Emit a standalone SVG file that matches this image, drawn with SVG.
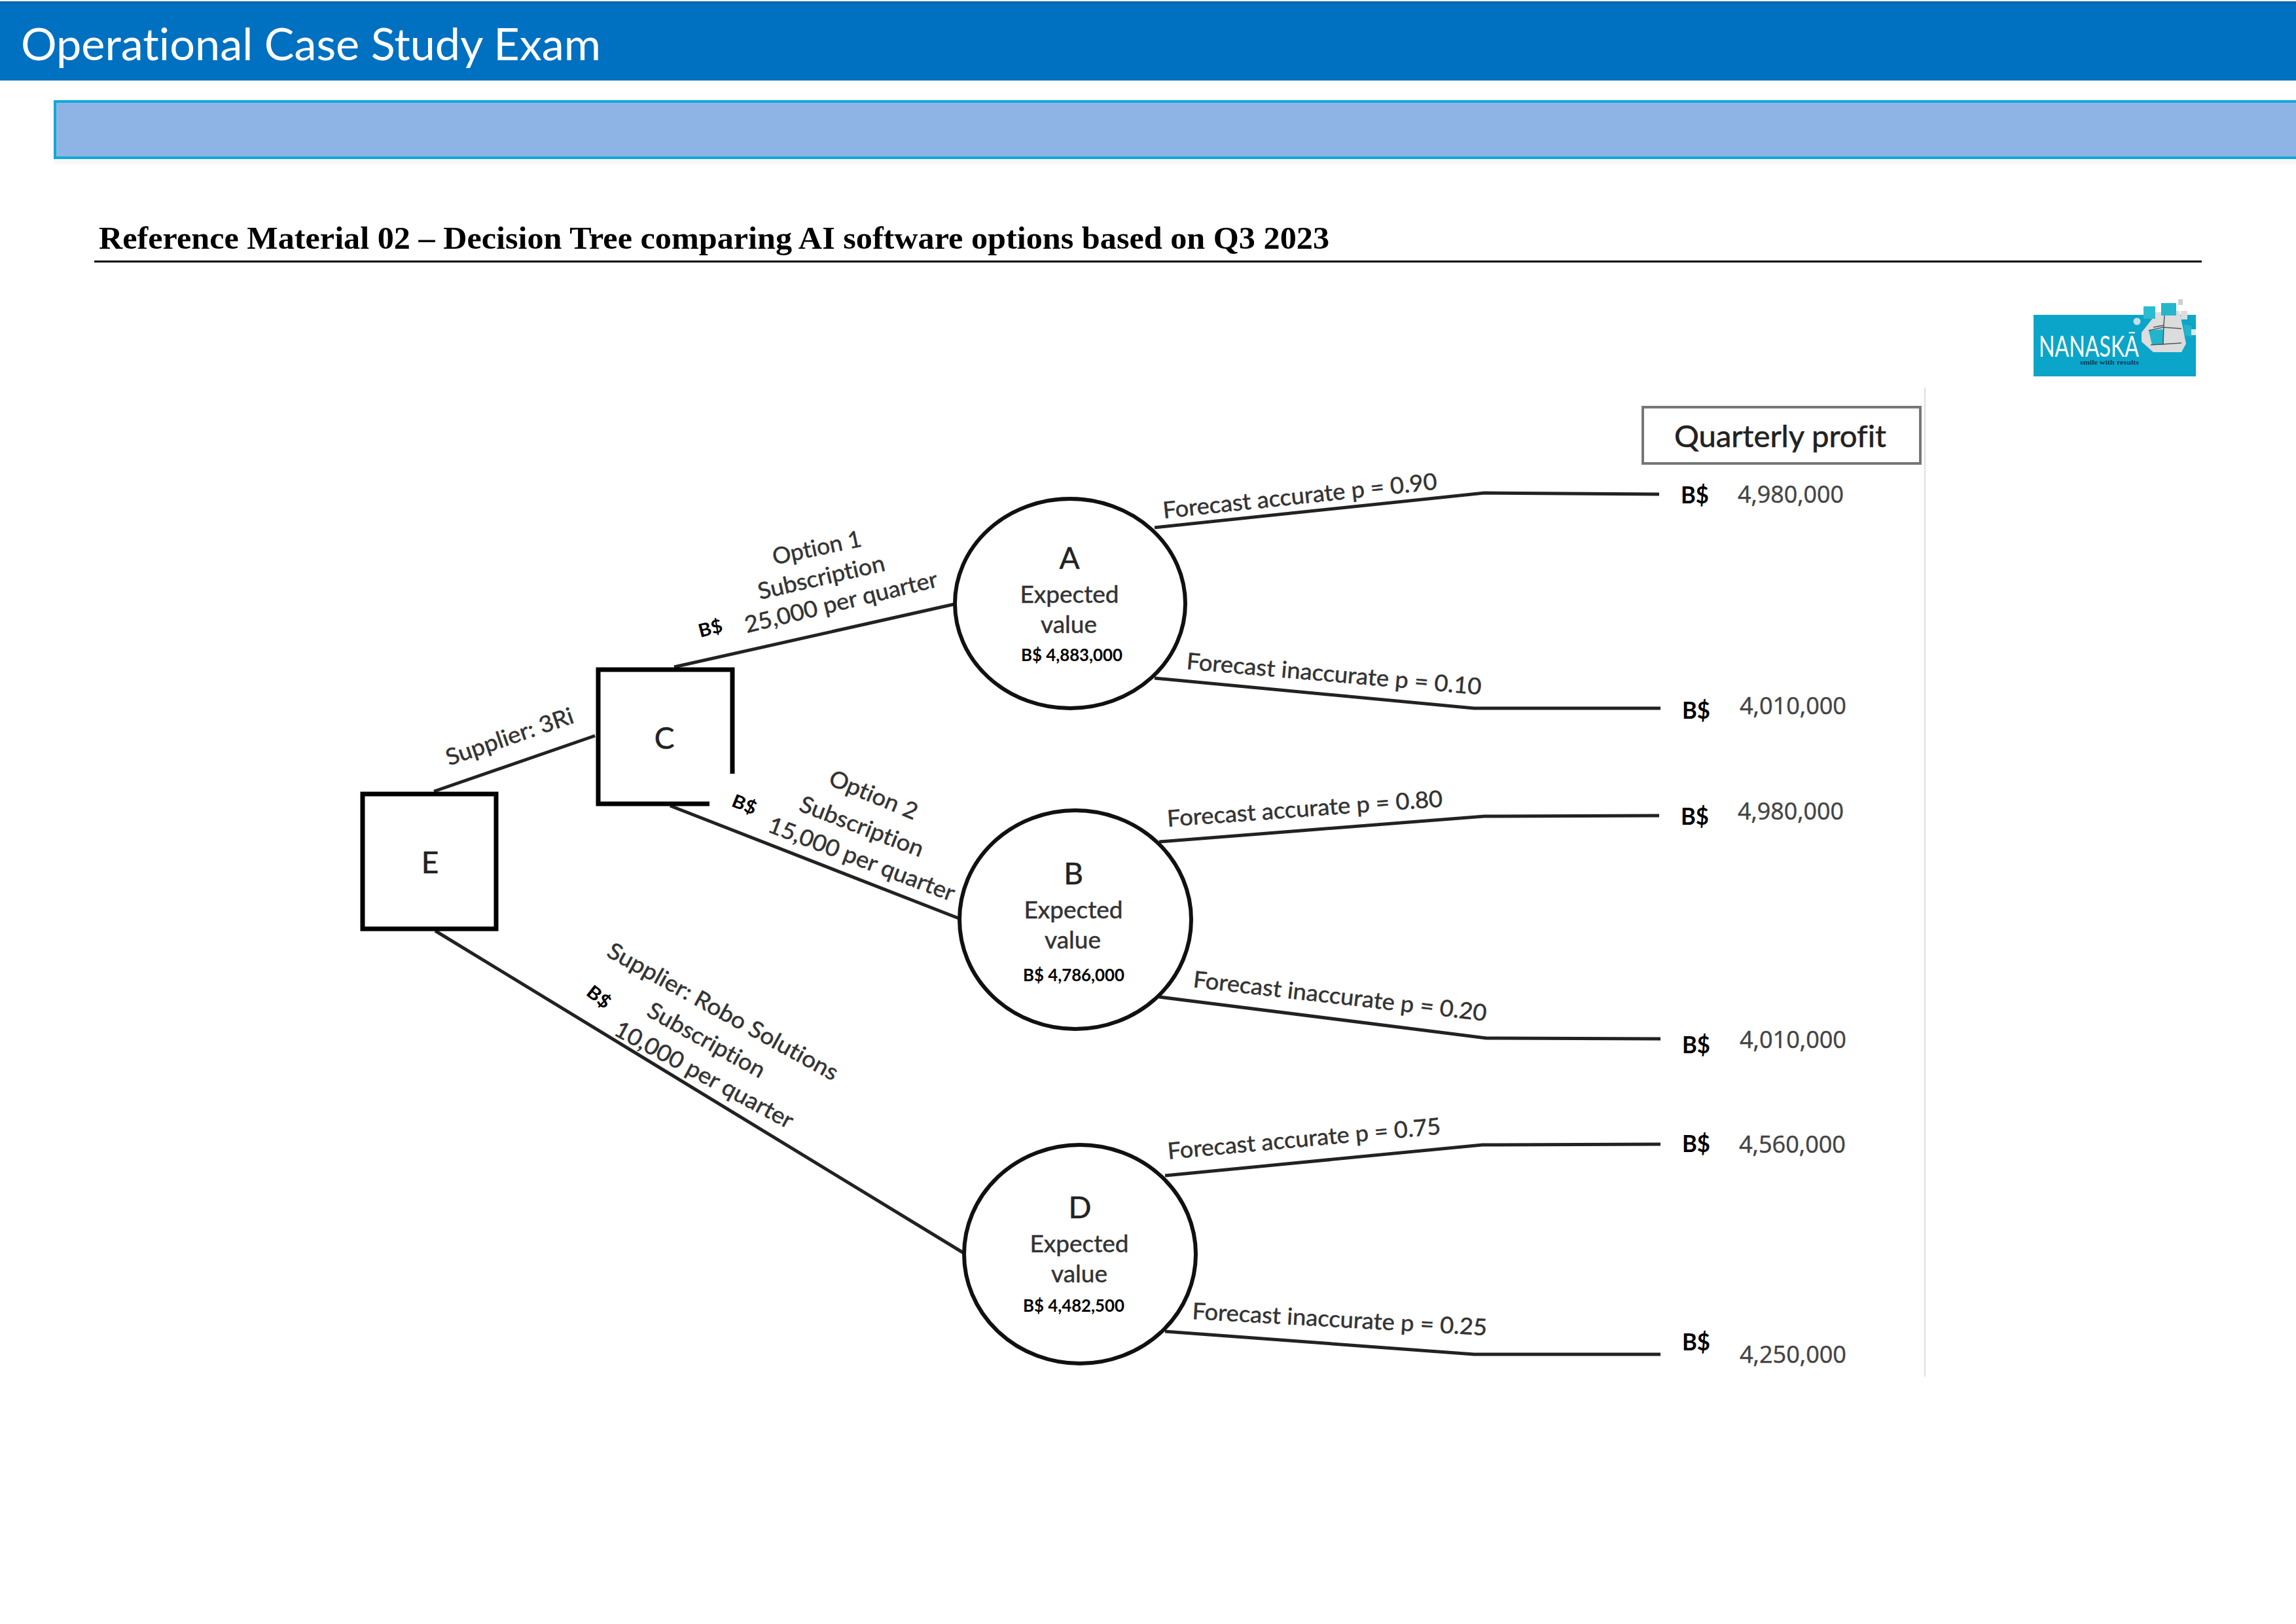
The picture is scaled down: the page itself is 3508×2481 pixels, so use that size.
<svg xmlns="http://www.w3.org/2000/svg" width="3508" height="2481" viewBox="0 0 3508 2481">
<style>
text{font-family:"Lato","Open Sans","Liberation Sans",sans-serif;fill:#333;font-variant-ligatures:none}
.lbl{font-size:35px;stroke:#333;stroke-width:.5}
.val{font-size:36px;fill:#444;font-family:"Open Sans","Liberation Sans",sans-serif;stroke:#444;stroke-width:.5}
.cur{font-size:36px;font-weight:700;fill:#000}
.cur2{font-size:28px;font-weight:700;fill:#000}
.ev{font-size:27px;font-weight:700;fill:#000}
.big{font-size:46px;text-anchor:middle;fill:#222;stroke:#222;stroke-width:.5}
.mid{font-size:37px;text-anchor:middle;stroke:#333;stroke-width:.5}
.box{fill:#fff;stroke:#000;stroke-width:7}
.circ{fill:#fff;stroke:#111;stroke-width:6}
.conn{fill:none;stroke:#222;stroke-width:5}
</style>
<rect width="3508" height="2481" fill="#fff"/>
<g id="header">
<rect x="0" y="2" width="3508" height="121" fill="#0070c0"/>
<rect x="0" y="2" width="3508" height="3" fill="#0b66a8"/>
<text x="32" y="92" font-size="68" style="fill:#fff" textLength="886" lengthAdjust="spacingAndGlyphs">Operational Case Study Exam</text>
</g>
<g id="band">
<rect x="82" y="243" width="3426" height="8" fill="#f8f8f8"/>
<rect x="84" y="155" width="3430" height="86" fill="#8eb4e6" stroke="#12a8d8" stroke-width="4"/>
</g>
<g id="title">
<text x="151" y="380" font-size="48" font-weight="700" style="font-family:'Liberation Serif',serif;fill:#000" textLength="1880" lengthAdjust="spacingAndGlyphs">Reference Material 02 – Decision Tree comparing AI software options based on Q3 2023</text>
<rect x="144" y="398" width="3220" height="3" fill="#000"/>
</g>
<g id="logo">
<rect x="3107" y="481" width="248" height="94" fill="#0ba5c9"/>
<circle cx="3265" cy="491" r="5.5" fill="#c4dfe6"/>
<polygon points="3272,508 3290,485 3293,477 3330,475 3340,525 3333,538 3290,538 3272,522" fill="#dcdcdc"/>
<rect x="3275" y="468" width="18" height="19" fill="#2cbcd0"/>
<rect x="3302" y="463" width="23" height="19" fill="#25b6cc"/>
<polygon points="3283,505 3305,503 3305,527 3288,527" fill="#22b4ca"/>
<path d="M3290 500L3306 497L3307 482M3306 497L3305 527M3283 505L3305 500L3333 502M3286 527L3333 524" fill="none" stroke="#4a5a62" stroke-width="1.5"/>
<rect x="3328" y="457" width="7" height="9" fill="#cfcfcf"/>
<rect x="3332" y="475" width="10" height="13" fill="#dcdcdc"/>
<rect x="3345" y="481" width="10" height="12" fill="#12a8c4"/>
<polygon points="3336,495 3348,498 3350,515 3338,512" fill="#22b4ca"/>
<rect x="3348" y="503" width="7" height="9" fill="#d8e8ec"/>
<text x="3115" y="545" font-size="44" style="fill:#fff" textLength="153" lengthAdjust="spacingAndGlyphs">NANASKĀ</text>
<text x="3178" y="557" font-size="11" font-weight="700" style="font-family:'Liberation Serif',serif;fill:#123a5a" textLength="90" lengthAdjust="spacingAndGlyphs">smile with results</text>
</g>
<g id="connectors">
<path class="conn" d="M663 1209L909 1124"/>
<path class="conn" d="M1030 1019L1458 923"/>
<path class="conn" d="M1024 1231L1465 1403"/>
<path class="conn" d="M665 1422L1472 1914"/>
<path class="conn" d="M1764 806L2268 753L2535 755"/>
<path class="conn" d="M1764 1036L2252 1082L2537 1082"/>
<path class="conn" d="M1771 1286L2268 1247L2535 1246"/>
<path class="conn" d="M1771 1523L2271 1586L2537 1587"/>
<path class="conn" d="M1780 1796L2265 1749L2537 1748"/>
<path class="conn" d="M1780 2034L2252 2069L2537 2069"/>
</g>
<g id="node-E">
<rect class="box" x="554" y="1213" width="204" height="206"/>
<text class="big" x="657" y="1334">E</text>
</g>
<g id="node-C">
<rect class="box" x="914" y="1023" width="205" height="205"/>
<polygon points="1084,1236 1084,1215 1112,1182 1128,1182 1128,1236" fill="#fff"/>
<text class="big" x="1015" y="1144">C</text>
</g>
<g id="node-A">
<ellipse class="circ" cx="1635" cy="922" rx="176" ry="160"/>
<text class="big" x="1634" y="869">A</text>
<text class="mid" x="1634" y="921">Expected</text>
<text class="mid" x="1633" y="967">value</text>
<text class="ev" x="1560" y="1010" textLength="155" lengthAdjust="spacingAndGlyphs">B$ 4,883,000</text>
</g>
<g id="node-B">
<ellipse class="circ" cx="1643" cy="1405" rx="177" ry="167"/>
<text class="big" x="1640" y="1351">B</text>
<text class="mid" x="1640" y="1403">Expected</text>
<text class="mid" x="1639" y="1449">value</text>
<text class="ev" x="1563" y="1499" textLength="155" lengthAdjust="spacingAndGlyphs">B$ 4,786,000</text>
</g>
<g id="node-D">
<ellipse class="circ" cx="1650" cy="1916" rx="177" ry="167"/>
<text class="big" x="1650" y="1861">D</text>
<text class="mid" x="1649" y="1913">Expected</text>
<text class="mid" x="1649" y="1959">value</text>
<text class="ev" x="1563" y="2004" textLength="155" lengthAdjust="spacingAndGlyphs">B$ 4,482,500</text>
</g>
<g id="branch-labels">
<text class="lbl" transform="translate(686 1170) rotate(-19)" textLength="204" lengthAdjust="spacingAndGlyphs">Supplier: 3Ri</text>
<text class="lbl" transform="translate(1183 863) rotate(-12)" textLength="138" lengthAdjust="spacingAndGlyphs">Option 1</text>
<text class="lbl" transform="translate(1161 916) rotate(-13)" textLength="198" lengthAdjust="spacingAndGlyphs">Subscription</text>
<text class="lbl" transform="translate(1141 967) rotate(-13.6)" textLength="302" lengthAdjust="spacingAndGlyphs">25,000 per quarter</text>
<text class="cur2" transform="translate(1070 974) rotate(-15)" textLength="37" lengthAdjust="spacingAndGlyphs">B$</text>
<text class="lbl" transform="translate(1264 1198) rotate(22.6)" textLength="143" lengthAdjust="spacingAndGlyphs">Option 2</text>
<text class="lbl" transform="translate(1219 1238) rotate(21)" textLength="200" lengthAdjust="spacingAndGlyphs">Subscription</text>
<text class="lbl" transform="translate(1171 1270) rotate(20.8)" textLength="302" lengthAdjust="spacingAndGlyphs">15,000 per quarter</text>
<text class="cur2" transform="translate(1116 1231) rotate(22)" textLength="38" lengthAdjust="spacingAndGlyphs">B$</text>
<text class="lbl" transform="translate(925 1460) rotate(28.9)" textLength="397" lengthAdjust="spacingAndGlyphs">Supplier: Robo Solutions</text>
<text class="lbl" transform="translate(986 1551) rotate(29)" textLength="200" lengthAdjust="spacingAndGlyphs">Subscription</text>
<text class="lbl" transform="translate(936 1580) rotate(28.4)" textLength="305" lengthAdjust="spacingAndGlyphs">10,000 per quarter</text>
<text class="cur2" transform="translate(894 1519) rotate(38)" textLength="38" lengthAdjust="spacingAndGlyphs">B$</text>
<text class="lbl" transform="translate(1778 792) rotate(-6.1)" textLength="421" lengthAdjust="spacingAndGlyphs">Forecast accurate p = 0.90</text>
<text class="lbl" transform="translate(1812 1022) rotate(5)" textLength="452" lengthAdjust="spacingAndGlyphs">Forecast inaccurate p = 0.10</text>
<text class="lbl" transform="translate(1784 1263) rotate(-4.2)" textLength="422" lengthAdjust="spacingAndGlyphs">Forecast accurate p = 0.80</text>
<text class="lbl" transform="translate(1822 1508) rotate(6.6)" textLength="451" lengthAdjust="spacingAndGlyphs">Forecast inaccurate p = 0.20</text>
<text class="lbl" transform="translate(1785 1771) rotate(-5.3)" textLength="419" lengthAdjust="spacingAndGlyphs">Forecast accurate p = 0.75</text>
<text class="lbl" transform="translate(1821 2015) rotate(3.2)" textLength="451" lengthAdjust="spacingAndGlyphs">Forecast inaccurate p = 0.25</text>
</g>
<g id="outcomes">
<rect x="2510" y="622" width="424" height="86" fill="#fff" stroke="#777" stroke-width="4"/>
<text x="2558" y="683" font-size="46" style="fill:#222;stroke:#222;stroke-width:.6" textLength="324" lengthAdjust="spacingAndGlyphs">Quarterly profit</text>
<line x1="2941" y1="592" x2="2941" y2="2103" stroke="#ddd" stroke-width="2"/>
<text class="cur" x="2568" y="769" textLength="43" lengthAdjust="spacingAndGlyphs">B$</text>
<text class="val" x="2655" y="768" textLength="162" lengthAdjust="spacingAndGlyphs">4,980,000</text>
<text class="cur" x="2570" y="1098" textLength="43" lengthAdjust="spacingAndGlyphs">B$</text>
<text class="val" x="2658" y="1091" textLength="163" lengthAdjust="spacingAndGlyphs">4,010,000</text>
<text class="cur" x="2568" y="1260" textLength="43" lengthAdjust="spacingAndGlyphs">B$</text>
<text class="val" x="2655" y="1252" textLength="162" lengthAdjust="spacingAndGlyphs">4,980,000</text>
<text class="cur" x="2570" y="1609" textLength="43" lengthAdjust="spacingAndGlyphs">B$</text>
<text class="val" x="2658" y="1601" textLength="163" lengthAdjust="spacingAndGlyphs">4,010,000</text>
<text class="cur" x="2570" y="1760" textLength="43" lengthAdjust="spacingAndGlyphs">B$</text>
<text class="val" x="2657" y="1761" textLength="163" lengthAdjust="spacingAndGlyphs">4,560,000</text>
<text class="cur" x="2570" y="2063" textLength="43" lengthAdjust="spacingAndGlyphs">B$</text>
<text class="val" x="2658" y="2082" textLength="163" lengthAdjust="spacingAndGlyphs">4,250,000</text>
</g>
</svg>
